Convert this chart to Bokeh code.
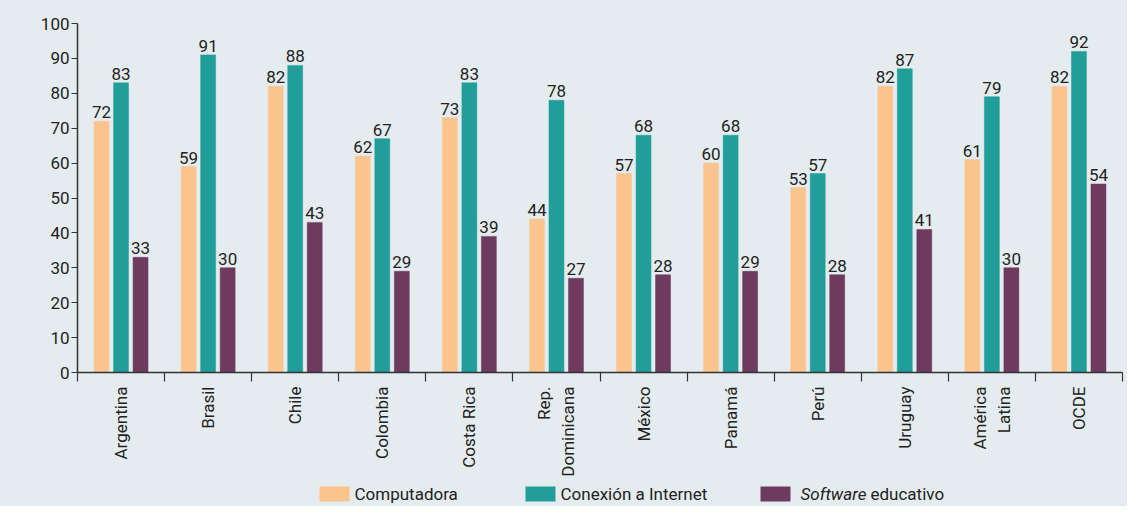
import math
from bokeh.plotting import figure
from bokeh.layouts import column
from bokeh.models import (ColumnDataSource, Range1d, FixedTicker, LinearAxis)
from bokeh.core.properties import value
from bokeh.embed import file_html
from bokeh.resources import INLINE

categories = ["Argentina", "Brasil", "Chile", "Colombia", "Costa Rica",
              "Rep.\nDominicana", "México", "Panamá", "Perú", "Uruguay",
              "América\nLatina", "OCDE"]
computadora = [72, 59, 82, 62, 73, 44, 57, 60, 53, 82, 61, 82]
internet = [83, 91, 88, 67, 83, 78, 68, 68, 57, 87, 79, 92]
software = [33, 30, 43, 29, 39, 27, 28, 29, 28, 41, 30, 54]
y_ticks = [0, 10, 20, 30, 40, 50, 60, 70, 80, 90, 100]
series_names = ["Computadora", "Conexión a Internet", "Software educativo"]

FONT = "Roboto, 'Liberation Sans Narrow', sans-serif"
BG = "#E5ECEF"
C_ORANGE = "#FBC48E"
C_TEAL = "#219E99"
C_PURPLE = "#6E3B5E"
TXT = "#222222"

W = 1127
H_MAIN = 482
H_LEG = 24
BL, BR = 77, 5

p = figure(width=W, height=H_MAIN, output_backend="svg", toolbar_location=None,
           x_range=Range1d(0, 12), y_range=Range1d(0, 100),
           x_axis_type=None, y_axis_type=None,
           min_border_left=BL, min_border_right=BR, min_border_top=23,
           min_border_bottom=110)
p.background_fill_color = BG
p.border_fill_color = BG
p.outline_line_color = None

n = len(categories)
centers = [i + 0.5 for i in range(n)]
offset = 0.224
bw = 0.172

series = [(computadora, -offset, C_ORANGE), (internet, 0.0, C_TEAL),
          (software, offset, C_PURPLE)]
for vals, off, col in series:
    xs = [c + off for c in centers]
    src = ColumnDataSource(dict(x=xs, top=vals, lab=[str(v) for v in vals]))
    p.vbar(x="x", top="top", width=bw, bottom=0, source=src,
           fill_color=col, line_color=col, line_width=0.5)
    p.text(x="x", y="top", text="lab", source=src, text_align="center",
           text_baseline="bottom", y_offset=-3, text_color=TXT,
           text_font=value(FONT), text_font_size="17px")

# y axis
yax = LinearAxis(ticker=FixedTicker(ticks=y_ticks))
yax.axis_line_color = "#333333"
yax.axis_line_width = 1.5
yax.major_tick_line_color = "#333333"
yax.major_tick_line_width = 1.2
yax.major_tick_out = 6
yax.major_tick_in = 0
yax.minor_tick_line_color = None
yax.major_label_text_font = FONT
yax.major_label_text_font_size = "17px"
yax.major_label_text_color = TXT
yax.major_label_standoff = 2
p.add_layout(yax, "left")

# x axis: labels at centers, ticks at boundaries (minor ticks)
xax = LinearAxis(ticker=FixedTicker(ticks=centers,
                                    minor_ticks=list(range(n + 1))))
xax.major_label_overrides = {c: lab for c, lab in zip(centers, categories)}
xax.axis_line_color = "#333333"
xax.axis_line_width = 1.5
xax.major_tick_line_color = None
xax.minor_tick_line_color = "#333333"
xax.minor_tick_line_width = 1.2
xax.minor_tick_out = 9
xax.minor_tick_in = 0
xax.major_label_orientation = math.pi / 2
xax.major_label_text_font = FONT
xax.major_label_text_font_size = "17px"
xax.major_label_text_color = TXT
xax.major_label_standoff = 5
p.add_layout(xax, "below")

p.xgrid.visible = False
p.ygrid.ticker = FixedTicker(ticks=y_ticks[1:])
p.ygrid.grid_line_color = "#777777"
p.ygrid.grid_line_dash = "7 4"
p.ygrid.grid_line_width = 1

# legend strip (pixel-space figure below the chart)
leg = figure(width=W, height=H_LEG, output_backend="svg", toolbar_location=None,
             x_range=Range1d(BL, W - BR), y_range=Range1d(0, H_LEG),
             x_axis_type=None, y_axis_type=None,
             min_border_left=BL, min_border_right=BR,
             min_border_top=0, min_border_bottom=0)
leg.background_fill_color = None
leg.border_fill_color = BG
leg.outline_line_color = None
leg.grid.visible = False

sw_left = [319, 525, 760]
sw_cols = [C_ORANGE, C_TEAL, C_PURPLE]
leg.quad(left=sw_left, right=[x + 30 for x in sw_left], bottom=5, top=20,
         fill_color=sw_cols, line_color=None)
leg.text(x=[354, 560], y=12.5, text=series_names[:2], text_baseline="middle",
         text_align="left", text_color=TXT, text_font=value(FONT),
         text_font_size="17px")
sw_parts = series_names[2].split(" ", 1)
leg.text(x=[800], y=12.5, text=[sw_parts[0]], text_baseline="middle",
         text_align="left", text_color=TXT, text_font=value(FONT),
         text_font_size="17px", text_font_style="italic")
leg.text(x=[870], y=12.5, text=[sw_parts[1]], text_baseline="middle",
         text_align="left", text_color=TXT, text_font=value(FONT),
         text_font_size="17px")

layout = column(p, leg, spacing=0, styles={"background-color": BG})
open("out.html", "w").write(file_html(layout, INLINE))
